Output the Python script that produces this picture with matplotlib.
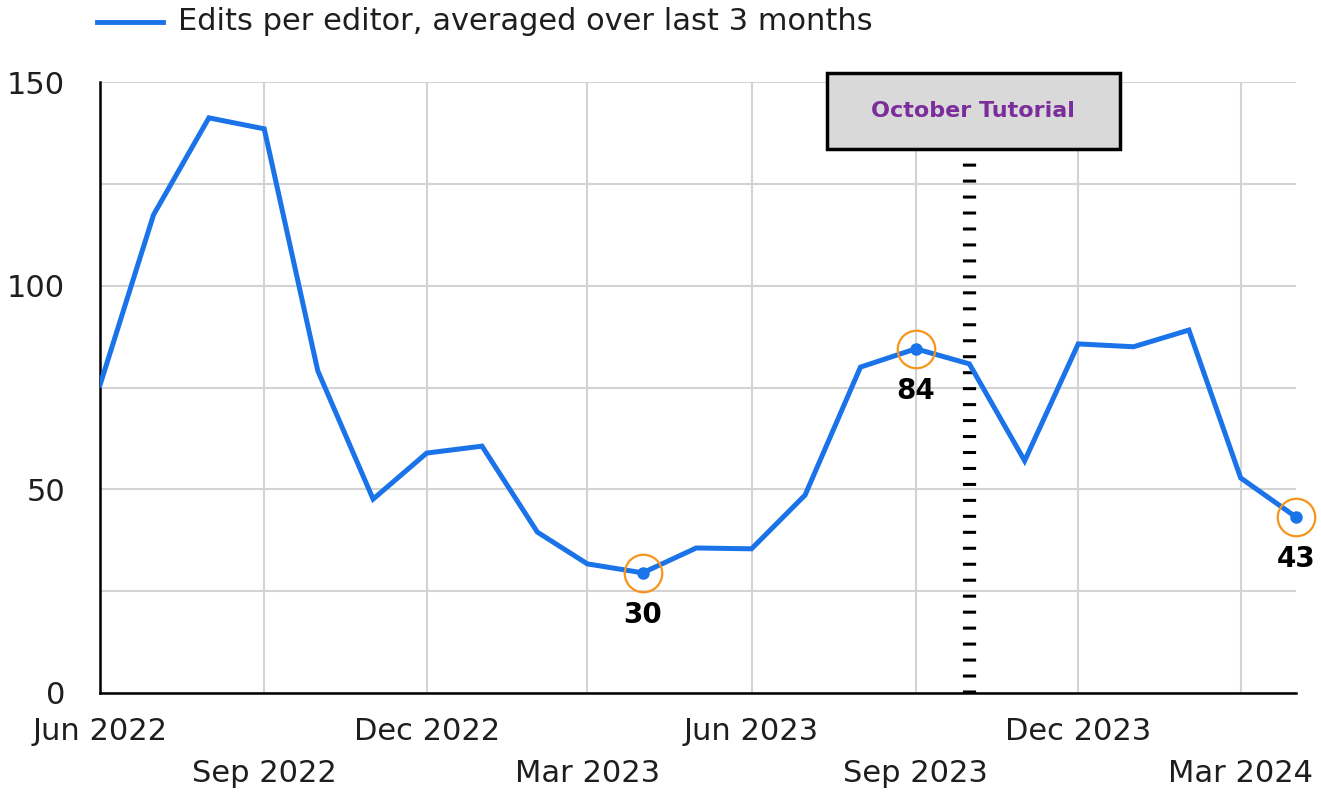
import matplotlib
matplotlib.use("Agg")
import matplotlib.pyplot as plt
from matplotlib.patches import Rectangle
import pandas as pd

months = pd.date_range("2022-06-01", "2024-04-01", freq="MS")
values = [75.6, 117.4, 141.2, 138.5, 79.1, 47.6, 58.9, 60.6, 39.5, 31.7, 29.5, 35.6,
          35.4, 48.6, 80.0, 84.5, 80.8, 57.0, 85.7, 85.0, 89.1, 52.8, 43.2]
highlight_dates = ["2023-04-01", "2023-09-01", "2024-04-01"]
highlight_labels = ["30", "84", "43"]
event_date = "2023-10-01"
event_label = "October Tutorial"
series_name = "Edits per editor, averaged over last 3 months"
tick_dates = pd.date_range("2022-06-01", "2024-03-01", freq="3MS")
tick_labels = ["Jun 2022", "Sep 2022", "Dec 2022", "Mar 2023", "Jun 2023",
               "Sep 2023", "Dec 2023", "Mar 2024"]
yticks = [0, 50, 100, 150]

FONT = "DejaVu Sans"
TS = 22
TC = "#1e1e1e"
W, H = 1321, 792
fig = plt.figure(figsize=(W / 100, H / 100), dpi=100)
ax = fig.add_axes([100 / W, 1 - 693 / H, (1296 - 100) / W, (693 - 82) / H])

blue = "#1a73e8"
ax.plot(months, values, color=blue, lw=3.6, solid_joinstyle="miter", zorder=3)

ax.set_xlim(months[0], months[-1])
ax.set_ylim(0, 150)

ax.set_yticks(yticks)
ax.set_yticks(range(0, 151, 25), minor=True)
ax.set_xticks(tick_dates)
ax.tick_params(axis="both", which="both", length=0)
ax.grid(True, which="both", axis="y", color="#d3d3d3", lw=1.5)
ax.grid(True, which="major", axis="x", color="#d3d3d3", lw=1.5)
ax.set_axisbelow(True)

ax.set_yticklabels([str(v) for v in yticks], fontsize=TS, family=FONT, color=TC)
ax.tick_params(axis="y", pad=25)
ax.set_xticklabels([])
for i, (d, lab) in enumerate(zip(tick_dates, tick_labels)):
    off = -38 if i % 2 == 0 else -80
    ax.annotate(lab, xy=(d, 0), xycoords=("data", "axes fraction"),
                xytext=(0, off), textcoords="offset pixels",
                ha="center", va="center", fontsize=TS, family=FONT, color=TC)

for s in ["top", "right"]:
    ax.spines[s].set_visible(False)
for s in ["left", "bottom"]:
    ax.spines[s].set_color("black")
    ax.spines[s].set_linewidth(1.8)

ax.axvline(pd.Timestamp(event_date), ymin=0, ymax=0.87, color="black", lw=9.5,
           linestyle=(0, (0.23, 0.98)), zorder=2)

for d, lab in zip(highlight_dates, highlight_labels):
    dt = pd.Timestamp(d)
    v = values[list(months).index(dt)]
    ax.plot([dt], [v], "o", color=blue, ms=8, zorder=4, clip_on=False)
    ax.plot([dt], [v], "o", mfc="none", mec="#f7941d", ms=27, mew=1.6, zorder=5, clip_on=False)
    ax.annotate(lab, xy=(dt, v), xytext=(0, -42), textcoords="offset pixels",
                ha="center", va="center", fontsize=20, fontweight="bold",
                family=FONT, color="black", annotation_clip=False)

fig.patches.append(Rectangle((827 / W, 1 - 149 / H), (1120 - 827) / W, (149 - 73) / H,
                             transform=fig.transFigure, facecolor="#d9d9d9",
                             edgecolor="black", lw=2.5, zorder=10))
fig.text(973 / W, 1 - 111 / H, event_label, ha="center", va="center", fontsize=16,
         fontweight="bold", family=FONT, color="#7b2d9b", zorder=11)

fig.add_artist(plt.Line2D([97 / W, 163 / W], [1 - 22 / H, 1 - 22 / H], color=blue, lw=3.5,
                          transform=fig.transFigure))
fig.text(178 / W, 1 - 22 / H, series_name, ha="left", va="center", fontsize=TS,
         family=FONT, color=TC)

fig.savefig("out.png", dpi=100)
